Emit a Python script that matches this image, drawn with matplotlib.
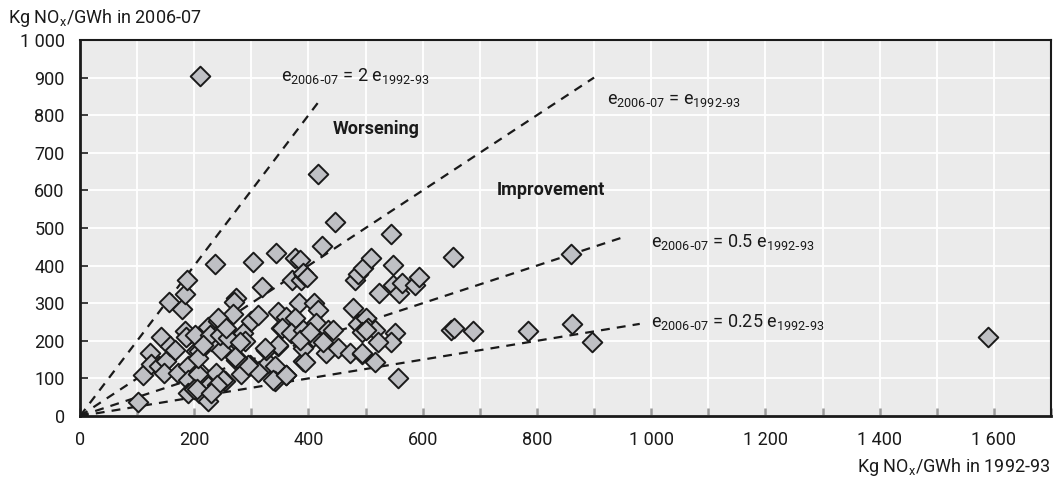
import numpy as np
import matplotlib.pyplot as plt
from matplotlib.ticker import MultipleLocator, FuncFormatter

plt.rcParams['font.family'] = ['Roboto', 'DejaVu Sans']
plt.rcParams['mathtext.default'] = 'regular'

# Kg NOx/GWh, 1992-93 (x) vs 2006-07 (y)
nox_1992 = [101, 110, 122, 125, 139, 151, 147, 141, 157, 167, 183, 186, 171, 189, 189,
            189, 203, 156, 179, 183, 188, 236, 210, 202, 224, 241, 230, 244, 247, 209,
            209, 209, 224, 224, 238, 253, 271, 285, 288, 273, 300, 297, 282, 314, 329,
            341, 326, 346, 352, 341, 361, 375, 390, 303, 344, 376, 371, 387, 392, 319,
            273, 270, 384, 346, 361, 377, 311, 268, 241, 417, 446, 423, 410, 385, 391,
            397, 417, 414, 434, 443, 408, 391, 394, 431, 452, 472, 493, 426, 353, 370,
            391, 347, 324, 312, 294, 274, 251, 338, 360, 478, 481, 486, 496, 509, 523,
            545, 548, 548, 558, 564, 586, 594, 487, 501, 504, 516, 493, 501, 551, 545,
            522, 493, 516, 556, 653, 650, 655, 688, 784, 860, 862, 897, 1590,
            207, 200, 207, 227, 245, 259, 280, 271, 385, 402, 239, 204, 230, 215, 255]
nox_2007 = [38, 110, 168, 137, 132, 145, 114, 209, 185, 176, 225, 209, 114, 132, 97,
            61, 172, 302, 284, 324, 362, 404, 905, 215, 238, 252, 199, 221, 176, 172,
            119, 61, 79, 39, 114, 92, 203, 221, 199, 150, 252, 136, 112, 119, 141,
            132, 176, 185, 234, 92, 110, 225, 145, 410, 434, 419, 362, 362, 375, 344,
            315, 304, 300, 277, 264, 261, 268, 270, 260, 644, 517, 453, 300, 415, 379,
            370, 282, 247, 229, 229, 211, 180, 144, 167, 180, 167, 164, 198, 233, 220,
            229, 189, 180, 118, 136, 153, 96, 96, 109, 286, 362, 378, 393, 419, 326,
            484, 402, 348, 326, 355, 348, 370, 246, 260, 233, 229, 224, 229, 220, 198,
            198, 167, 144, 100, 422, 229, 233, 227, 227, 430, 246, 196, 210,
            113, 72, 153, 215, 215, 207, 198, 158, 202, 224, 82, 71, 60, 190, 235]

# reference ratios e2006-07 = k * e1992-93 and how far each line is drawn
ratios = [2, 1, 0.5, 0.25]
line_ends = [420, 900, 950, 980]

fig = plt.figure(figsize=(10.57, 4.8), dpi=100)
ax = fig.add_axes([0.0757, 0.1333, 0.9186, 0.7834])
ax.set_facecolor('#ebebeb')

for k, xe in zip(ratios, line_ends):
    xs = np.array([0, xe])
    ax.plot(xs, k * xs, color='#1a1a1a', lw=1.6, ls=(0, (4, 3.2)), zorder=2)

ax.scatter(nox_1992, nox_2007, marker='D', s=100, facecolor='#bfc0c4',
           edgecolor='#1a1a1a', linewidth=1.4, zorder=3)

ax.set_xlim(0, 1700)
ax.set_ylim(0, 1000)
ax.xaxis.set_major_locator(MultipleLocator(200))
ax.xaxis.set_minor_locator(MultipleLocator(100))
ax.yaxis.set_major_locator(MultipleLocator(100))

fmt = FuncFormatter(lambda v, p: f'{int(v):,}'.replace(',', ' '))
ax.xaxis.set_major_formatter(fmt)
ax.yaxis.set_major_formatter(fmt)

ax.grid(which='both', color='white', lw=1.3, zorder=0)
ax.set_axisbelow(True)
ax.tick_params(axis='x', which='both', direction='in', length=6, width=1.8,
               color='#9a9a9a', pad=11, labelsize=13, labelcolor='#1a1a1a')
ax.tick_params(axis='y', direction='in', length=6, width=1.2, color='#1a1a1a',
               pad=11, labelsize=13, labelcolor='#1a1a1a')
for s in ax.spines.values():
    s.set_color('#1a1a1a')
    s.set_linewidth(1.5)
ax.spines['left'].set_linewidth(2)
ax.spines['bottom'].set_linewidth(2)

fig.text(0.008, 0.963, 'Kg NO$_\\mathregular{x}$/GWh in 2006-07', fontsize=13,
         ha='left', va='center', color='#1a1a1a')
fig.text(0.994, 0.027, 'Kg NO$_\\mathregular{x}$/GWh in 1992-93', fontsize=13,
         ha='right', va='center', color='#1a1a1a')

lbl = dict(fontsize=13, color='#1a1a1a', ha='left', va='center')
ax.text(352, 905, 'e$_{2006\\text{-}07}$ = 2 e$_{1992\\text{-}93}$', **lbl)
ax.text(922, 840, 'e$_{2006\\text{-}07}$ = e$_{1992\\text{-}93}$', **lbl)
ax.text(1000, 462, 'e$_{2006\\text{-}07}$ = 0.5 e$_{1992\\text{-}93}$', **lbl)
ax.text(1000, 250, 'e$_{2006\\text{-}07}$ = 0.25 e$_{1992\\text{-}93}$', **lbl)

ax.text(443, 763, 'Worsening', fontsize=13, fontweight='bold', color='#1a1a1a',
        ha='left', va='center')
ax.text(729, 601, 'Improvement', fontsize=13, fontweight='bold', color='#1a1a1a',
        ha='left', va='center')

fig.savefig('out.png', dpi=100)
